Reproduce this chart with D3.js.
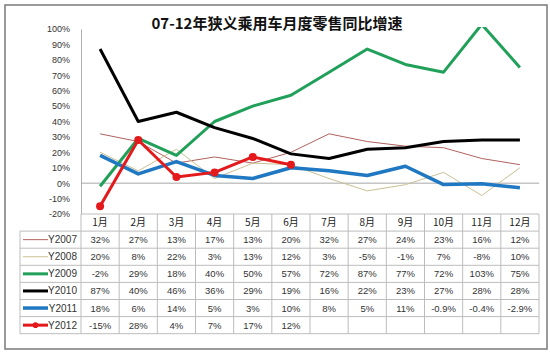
<!DOCTYPE html>
<html><head><meta charset="utf-8">
<script src="https://cdn.jsdelivr.net/npm/d3@7"></script>
<style>
body{margin:0;background:#fff;}
svg{display:block;font-family:"Noto Sans CJK SC","Noto Sans",sans-serif;}
</style></head>
<body><svg id="c" width="550" height="356"></svg>
<script>
const months = ["1月","2月","3月","4月","5月","6月","7月","8月","9月","10月","11月","12月"];
const yTicks = [100,90,80,70,60,50,40,30,20,10,0,-10,-20];
const seriesNames = ["Y2007","Y2008","Y2009","Y2010","Y2011","Y2012"];
const y2007 = [32,27,13,17,13,20,32,27,24,23,16,12];
const y2008 = [20,8,22,3,13,12,3,-5,-1,7,-8,10];
const y2009 = [-2,29,18,40,50,57,72,87,77,72,103,75];
const y2010 = [87,40,46,36,29,19,16,22,23,27,28,28];
const y2011 = [18,6,14,5,3,10,8,5,11,-0.9,-0.4,-2.9];
const y2012 = [-15,28,4,7,17,12];
const labels2007 = ["32%","27%","13%","17%","13%","20%","32%","27%","24%","23%","16%","12%"];
const labels2008 = ["20%","8%","22%","3%","13%","12%","3%","-5%","-1%","7%","-8%","10%"];
const labels2009 = ["-2%","29%","18%","40%","50%","57%","72%","87%","77%","72%","103%","75%"];
const labels2010 = ["87%","40%","46%","36%","29%","19%","16%","22%","23%","27%","28%","28%"];
const labels2011 = ["18%","6%","14%","5%","3%","10%","8%","5%","11%","-0.9%","-0.4%","-2.9%"];
const labels2012 = ["-15%","28%","4%","7%","17%","12%","","","","","",""];

const series = [
  {name:seriesNames[0], values:y2007, labels:labels2007, color:"#b0625e", width:1, marker:false},
  {name:seriesNames[1], values:y2008, labels:labels2008, color:"#c9c093", width:1, marker:false},
  {name:seriesNames[2], values:y2009, labels:labels2009, color:"#21a05a", width:3, marker:false},
  {name:seriesNames[3], values:y2010, labels:labels2010, color:"#000000", width:3, marker:false},
  {name:seriesNames[4], values:y2011, labels:labels2011, color:"#1f78c1", width:3.5, marker:false},
  {name:seriesNames[5], values:y2012, labels:labels2012, color:"#e3191c", width:3, marker:true}
];

const svg = d3.select("#c");
svg.append("rect").attr("x",5).attr("y",5).attr("width",542).attr("height",344)
  .attr("fill","#fff").attr("stroke","#7a7a7a").attr("stroke-width",1.5);

svg.append("text").attr("x",277).attr("y",29).attr("text-anchor","middle")
  .attr("font-size",15).attr("font-weight","bold").attr("fill","#111")
  .text("07-12年狭义乘用车月度零售同比增速");

const pLeft = 81, pRight = 539, pTop = 29, pBottom = 214;
const x = d3.scaleBand().domain(months).range([pLeft,pRight]);
const y = d3.scaleLinear().domain([-20,100]).range([pBottom,pTop]);

const yAxis = d3.axisLeft(y).tickValues(yTicks).tickSize(0).tickPadding(11).tickFormat(d=>d+"%");
const ga = svg.append("g").attr("transform",`translate(${pLeft},0)`).call(yAxis);
ga.select(".domain").attr("stroke","#b0b0b0");
ga.selectAll("text").attr("font-size",9).attr("fill","#333").attr("font-family","Liberation Sans, sans-serif");
svg.append("line").attr("x1",pLeft).attr("x2",pRight).attr("y1",y(0)).attr("y2",y(0))
  .attr("stroke","#a8a8a8").attr("stroke-width",1);

const rowH = 17.1;
const tableTop = pBottom, tableLeft = 20;
const nRows = series.length + 1;
const tg = svg.append("g");
for(let i=0;i<=nRows;i++){
  const yy = tableTop + i*rowH;
  tg.append("line").attr("x1", i===0? pLeft : tableLeft).attr("x2",pRight)
    .attr("y1",yy).attr("y2",yy).attr("stroke","#bdbdbd");
}
tg.append("line").attr("x1",tableLeft).attr("x2",tableLeft).attr("y1",tableTop+rowH).attr("y2",tableTop+nRows*rowH).attr("stroke","#bdbdbd");
months.forEach((m,i)=>{
  tg.append("line").attr("x1",x(m)).attr("x2",x(m)).attr("y1",tableTop).attr("y2",tableTop+nRows*rowH).attr("stroke","#bdbdbd");
});
tg.append("line").attr("x1",pRight).attr("x2",pRight).attr("y1",tableTop).attr("y2",tableTop+nRows*rowH).attr("stroke","#bdbdbd");

months.forEach(m=>{
  tg.append("text").attr("x",x(m)+x.bandwidth()/2).attr("y",tableTop+rowH/2+3.5)
    .attr("text-anchor","middle").attr("font-size",10).attr("fill","#222").text(m);
});
series.forEach((s,r)=>{
  const cy = tableTop + (r+1)*rowH + rowH/2;
  tg.append("line").attr("x1",23).attr("x2",48).attr("y1",cy).attr("y2",cy)
    .attr("stroke",s.color).attr("stroke-width",s.width);
  if(s.marker) tg.append("circle").attr("cx",35.5).attr("cy",cy).attr("r",2.8).attr("fill",s.color);
  tg.append("text").attr("x",77).attr("y",cy+3.5).attr("text-anchor","end")
    .attr("font-size",10).attr("fill","#333").attr("font-family","Liberation Sans, sans-serif").text(s.name);
  s.labels.forEach((lab,i)=>{
    tg.append("text").attr("x",x(months[i])+x.bandwidth()/2).attr("y",cy+3.5)
      .attr("text-anchor","middle").attr("font-size",9.5).attr("fill","#333")
      .attr("font-family","Liberation Sans, sans-serif").text(lab);
  });
});

svg.append("clipPath").attr("id","clip").append("rect")
  .attr("x",pLeft).attr("y",pTop-2).attr("width",pRight-pLeft).attr("height",pBottom-pTop+10);
const lg = svg.append("g").attr("clip-path","url(#clip)");
const line = d3.line().x((d,i)=>x(months[i])+x.bandwidth()/2).y(d=>y(d));
series.forEach(s=>{
  lg.append("path").datum(s.values).attr("d",line).attr("fill","none")
    .attr("stroke",s.color).attr("stroke-width",s.width).attr("stroke-linejoin","round");
  if(s.marker){
    lg.selectAll(null).data(s.values).enter().append("circle")
      .attr("cx",(d,i)=>x(months[i])+x.bandwidth()/2).attr("cy",d=>y(d)).attr("r",4).attr("fill",s.color);
  }
});
</script></body></html>
